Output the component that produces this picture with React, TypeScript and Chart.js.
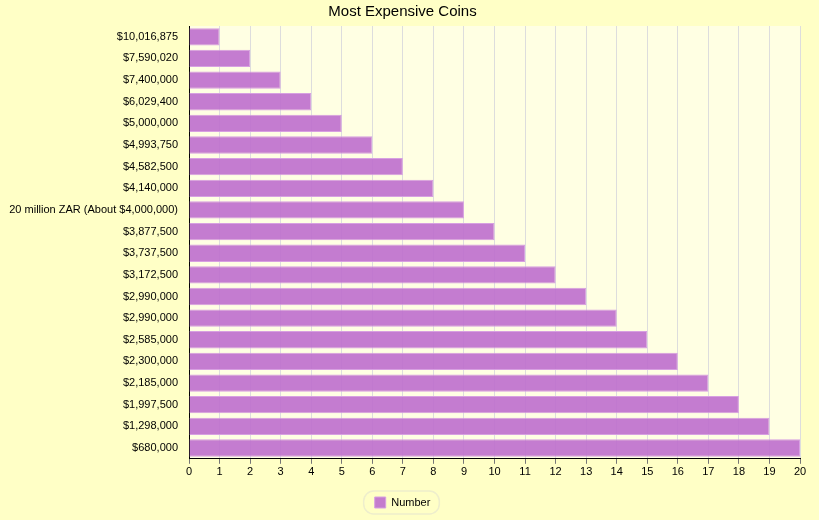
import React, { useEffect, useRef } from "react";
import { Chart, registerables } from "chart.js";
Chart.register(...registerables);

const categories = ["$10,016,875","$7,590,020","$7,400,000","$6,029,400","$5,000,000","$4,993,750","$4,582,500","$4,140,000","20 million ZAR (About $4,000,000)","$3,877,500","$3,737,500","$3,172,500","$2,990,000","$2,990,000","$2,585,000","$2,300,000","$2,185,000","$1,997,500","$1,298,000","$680,000"];
const numbers = [1,2,3,4,5,6,7,8,9,10,11,12,13,14,15,16,17,18,19,20];

const FONT = "'Liberation Sans', Arial, sans-serif";

const bgPlugin = {
  id: "bgp",
  beforeDraw(c: any) {
    const { ctx, chartArea: a } = c;
    ctx.save();
    ctx.fillStyle = "#FFFFC6";
    ctx.fillRect(0, 0, c.width, c.height);
    ctx.fillStyle = "#FFFFE3";
    ctx.fillRect(a.left, a.top, a.right - a.left, a.bottom - a.top);
    ctx.restore();
  },
  afterDraw(c: any) {
    const l = c.legend;
    if (!l || !l.legendHitBoxes || !l.legendHitBoxes.length) return;
    const h = l.legendHitBoxes[0];
    const ctx = c.ctx;
    ctx.save();
    ctx.strokeStyle = "#EEEECC";
    ctx.lineWidth = 1.5;
    const x = h.left - 11, y = h.top - 6, w = h.width + 20, hh = h.height + 12;
    ctx.beginPath();
    (ctx as any).roundRect(x, y, w, hh, 10);
    ctx.stroke();
    ctx.restore();
  },
};

export default function App() {
  const ref = useRef<HTMLCanvasElement>(null);
  useEffect(() => {
    document.body.style.margin = "0";
    const chart = new Chart(ref.current!, {
      type: "bar",
      data: {
        labels: categories,
        datasets: [{
          label: "Number",
          data: numbers,
          backgroundColor: "rgba(190,110,205,0.9)",
          borderColor: "rgba(215,160,225,1)",
          borderWidth: 1,
          barPercentage: 0.8,
          categoryPercentage: 1,
        }],
      },
      options: {
        indexAxis: "y",
        animation: false,
        responsive: false,
        layout: { padding: { left: 5, right: 19, top: 0, bottom: 2 } },
        scales: {
          x: {
            min: 0, max: 20,
            ticks: { stepSize: 1, color: "#000", font: { family: FONT, size: 11 }, padding: 2 },
            grid: { color: "#DDDDDD", tickColor: "#777", tickLength: 5 },
            border: { color: "#000" },
          },
          y: {
            afterFit: (s: any) => { s.width = 184; },
            ticks: { color: "#000", font: { family: FONT, size: 11 }, autoSkip: false },
            grid: { display: false },
            border: { color: "#000" },
          },
        },
        plugins: {
          title: { display: true, text: "Most Expensive Coins", color: "#000", font: { family: FONT, size: 15, weight: "normal" }, padding: { top: 3, bottom: 5 } },
          legend: {
            position: "bottom",
            labels: { color: "#000", boxWidth: 11, boxHeight: 11, font: { family: FONT, size: 11 }, padding: 16 },
          },
          tooltip: { enabled: false },
        },
      },
      plugins: [bgPlugin],
    });
    return () => chart.destroy();
  }, []);
  return <canvas ref={ref} width={819} height={520} style={{ display: "block" }} />;
}
